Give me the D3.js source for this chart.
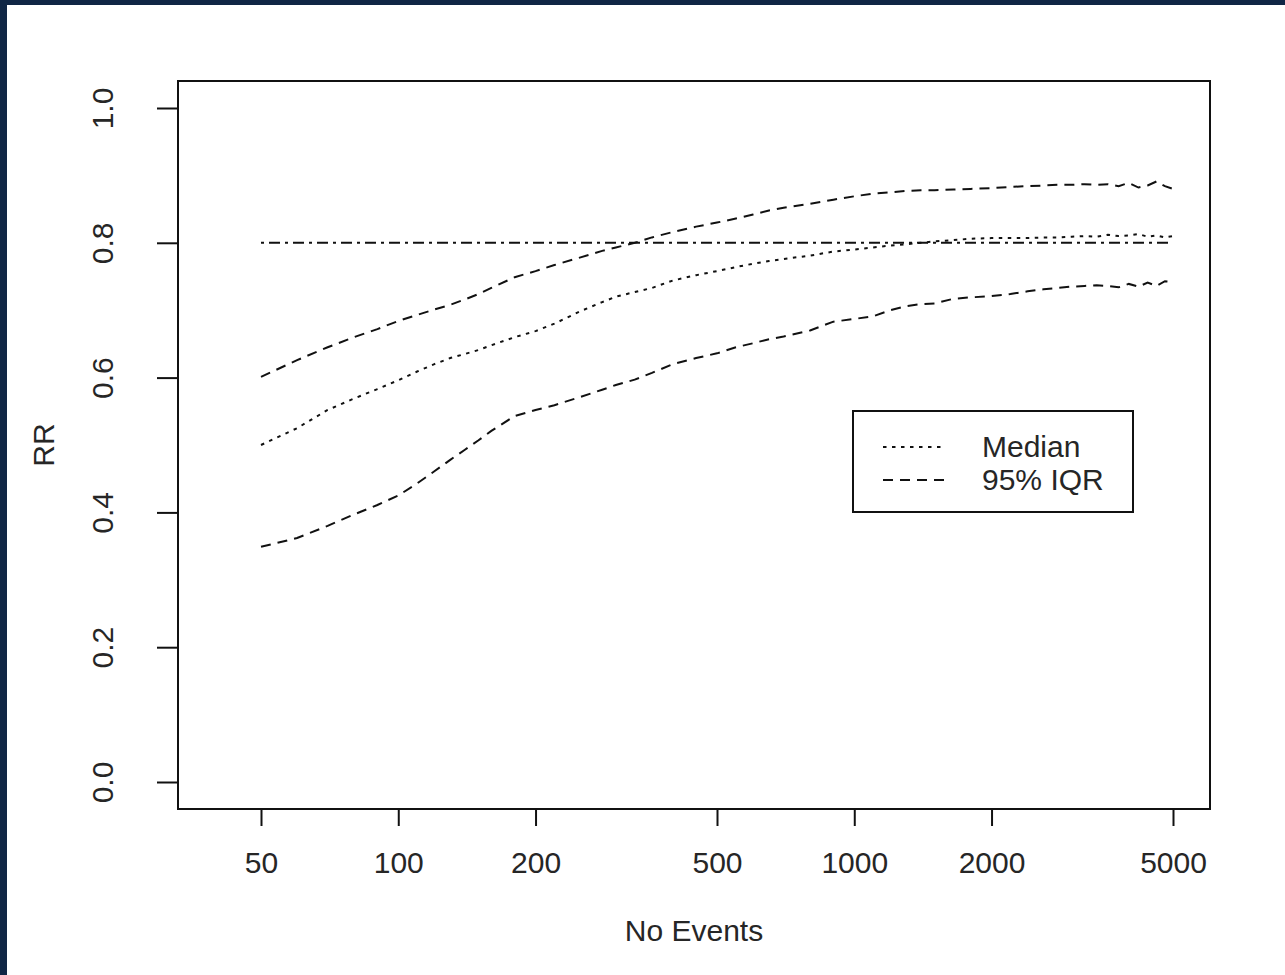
<!DOCTYPE html>
<html>
<head>
<meta charset="utf-8">
<script src="https://cdn.jsdelivr.net/npm/d3@7"></script>
<style>
  html, body { margin: 0; padding: 0; background: #ffffff; }
  svg { display: block; }
  text { font-family: "Liberation Sans", Arial, sans-serif; fill: #262626; }
</style>
</head>
<body>
<svg id="chart" width="1285" height="975"></svg>
<script>
// ---- data ----
const events = [50, 60, 70, 80, 90, 100, 110, 120, 130, 140, 150, 160, 180, 200, 220, 250, 280, 300, 330, 360, 400, 450, 500, 550, 600, 650, 700, 800, 900, 1000, 1100, 1200, 1300, 1400, 1500, 1650, 1800, 2000, 2200, 2400, 2600, 2800, 3000, 3200, 3400, 3600, 3800, 4000, 4200, 4400, 4600, 4800, 5000];
const upper = [0.601, 0.626, 0.645, 0.660, 0.672, 0.684, 0.693, 0.701, 0.708, 0.716, 0.724, 0.733, 0.749, 0.758, 0.767, 0.778, 0.788, 0.793, 0.800, 0.808, 0.816, 0.824, 0.830, 0.836, 0.842, 0.848, 0.852, 0.858, 0.864, 0.869, 0.873, 0.875, 0.877, 0.878, 0.878, 0.879, 0.880, 0.881, 0.883, 0.884, 0.885, 0.886, 0.886, 0.887, 0.886, 0.887, 0.884, 0.889, 0.882, 0.885, 0.891, 0.884, 0.880];
const median = [0.500, 0.525, 0.552, 0.569, 0.583, 0.596, 0.609, 0.620, 0.629, 0.635, 0.641, 0.648, 0.660, 0.669, 0.680, 0.698, 0.712, 0.720, 0.727, 0.733, 0.744, 0.752, 0.758, 0.764, 0.769, 0.773, 0.776, 0.781, 0.787, 0.790, 0.793, 0.796, 0.798, 0.800, 0.802, 0.804, 0.806, 0.807, 0.807, 0.807, 0.808, 0.808, 0.809, 0.810, 0.809, 0.812, 0.810, 0.811, 0.813, 0.809, 0.811, 0.808, 0.810];
const lower = [0.349, 0.362, 0.380, 0.397, 0.411, 0.425, 0.443, 0.461, 0.478, 0.493, 0.507, 0.521, 0.543, 0.552, 0.559, 0.571, 0.582, 0.589, 0.597, 0.607, 0.620, 0.629, 0.636, 0.645, 0.651, 0.657, 0.661, 0.670, 0.683, 0.687, 0.691, 0.700, 0.706, 0.709, 0.710, 0.717, 0.719, 0.721, 0.724, 0.728, 0.731, 0.733, 0.735, 0.736, 0.737, 0.736, 0.734, 0.739, 0.735, 0.741, 0.736, 0.743, 0.742];
const refEvents = [50, 5000];
const refValue = [0.8, 0.8];
const xTicks = [50, 100, 200, 500, 1000, 2000, 5000];
const yTicks = [0.0, 0.2, 0.4, 0.6, 0.8, 1.0];
const legendLabels = ["Median", "95% IQR"];

// ---- layout ----
const W = 1285, H = 975;
const box = { left: 178, right: 1210, top: 81, bottom: 809 };
const svg = d3.select("#chart");

// navy frame edges (top and left)
svg.append("rect").attr("x", 0).attr("y", 0).attr("width", W).attr("height", H).attr("fill", "#ffffff");
svg.append("rect").attr("x", 0).attr("y", 0).attr("width", W).attr("height", 5).attr("fill", "#102645");
svg.append("rect").attr("x", 0).attr("y", 0).attr("width", 7).attr("height", H).attr("fill", "#102645");

const x = d3.scaleLog().domain([50, 5000]).range([261, 1173]);
const y = d3.scaleLinear().domain([0, 1]).range([782, 108]);

const line = d3.line().x(d => x(d[0])).y(d => y(d[1]));
const zip = (a, b) => a.map((v, i) => [v, b[i]]);

const ink = "#111";
const fontSize = 30;

// reference line (dot-dash)
svg.append("path").datum(zip(refEvents, refValue)).attr("d", line)
  .attr("fill", "none").attr("stroke", ink).attr("stroke-width", 2)
  .attr("stroke-dasharray", "3,5,11,5");

// median dotted
svg.append("path").datum(zip(events, median)).attr("d", line)
  .attr("fill", "none").attr("stroke", ink).attr("stroke-width", 2)
  .attr("stroke-dasharray", "3.5,5.5");

// IQR dashed
[upper, lower].forEach(s => {
  svg.append("path").datum(zip(events, s)).attr("d", line)
    .attr("fill", "none").attr("stroke", ink).attr("stroke-width", 2)
    .attr("stroke-dasharray", "10,7");
});

// plot box
svg.append("rect").attr("x", box.left).attr("y", box.top)
  .attr("width", box.right - box.left).attr("height", box.bottom - box.top)
  .attr("fill", "none").attr("stroke", ink).attr("stroke-width", 2);

// x axis
const xAxis = d3.axisBottom(x).tickValues(xTicks).tickFormat(d3.format("d"))
  .tickSize(17).tickSizeOuter(0).tickPadding(0);
const gx = svg.append("g").attr("transform", `translate(0,${box.bottom})`).call(xAxis);
gx.select(".domain").remove();
gx.selectAll(".tick line").attr("stroke", ink).attr("stroke-width", 2);
gx.selectAll(".tick text").attr("font-size", fontSize).attr("dy", null)
  .attr("y", 64).style("font-family", "Liberation Sans, Arial, sans-serif").attr("fill", "#262626");

// y axis
const yAxis = d3.axisLeft(y).tickValues(yTicks).tickFormat(d3.format(".1f"))
  .tickSize(21).tickSizeOuter(0);
const gy = svg.append("g").attr("transform", `translate(${box.left},0)`).call(yAxis);
gy.select(".domain").remove();
gy.selectAll(".tick line").attr("stroke", ink).attr("stroke-width", 2);
gy.selectAll(".tick text").attr("font-size", fontSize)
  .attr("x", null).attr("dy", null).attr("text-anchor", "middle")
  .attr("transform", "translate(-65,0) rotate(-90)")
  .style("font-family", "Liberation Sans, Arial, sans-serif").attr("fill", "#262626");

// axis titles
svg.append("text").attr("x", (box.left + box.right) / 2).attr("y", 941)
  .attr("text-anchor", "middle").attr("font-size", fontSize).text("No Events");
svg.append("text").attr("transform", `translate(54,${(box.top + box.bottom) / 2}) rotate(-90)`)
  .attr("text-anchor", "middle").attr("font-size", fontSize).text("RR");

// legend
const lg = svg.append("g");
lg.append("rect").attr("x", 853).attr("y", 411).attr("width", 280).attr("height", 101)
  .attr("fill", "#fff").attr("stroke", ink).attr("stroke-width", 2);
const legDash = ["3.5,5.5", "10,7"];
legendLabels.forEach((lab, i) => {
  const yy = 447 + i * 33;
  lg.append("line").attr("x1", 883).attr("x2", 946).attr("y1", yy).attr("y2", yy)
    .attr("stroke", ink).attr("stroke-width", 2).attr("stroke-dasharray", legDash[i]);
  lg.append("text").attr("x", 982).attr("y", yy + 10).attr("font-size", fontSize).text(lab);
});
</script>
</body>
</html>
